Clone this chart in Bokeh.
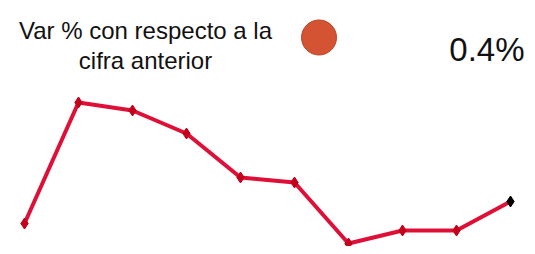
from bokeh.plotting import figure
from bokeh.models import Range1d, Label
from bokeh.embed import file_html
from bokeh.resources import INLINE

# data
periods = list(range(10))
values = [2.7, 14.8, 14.0, 11.7, 7.3, 6.8, 0.7, 2.0, 2.0, 4.9]
title_lines = ["Var % con respecto a la", "cifra anterior"]
last_change = "0.4%"

W, H = 527, 246
p = figure(width=W, height=H, output_backend="svg", toolbar_location=None,
           x_range=Range1d(-24 / 54, 9 + 17 / 54), y_range=Range1d(0.4, 25.0),
           min_border=0, min_border_left=0, min_border_right=0,
           min_border_top=0, min_border_bottom=0)
p.axis.visible = False
p.grid.visible = False
p.outline_line_color = None
p.background_fill_color = "white"
p.border_fill_color = "white"

p.line(periods, values, line_color="#DE1038", line_width=4)
p.scatter(periods[:-1], values[:-1], marker="diamond", size=11,
          fill_color="#C4001A", line_color="#C4001A")
p.scatter(periods[-1:], values[-1:], marker="diamond", size=11,
          fill_color="black", line_color="black")

# indicator circle
p.scatter([5.454], [21.3], marker="circle", size=35,
          fill_color="#D45332", line_color="#B84629", line_width=1)

font = "Liberation Sans"
p.add_layout(Label(x=145, y=216, x_units="screen", y_units="screen",
                   text=title_lines[0], text_align="center", text_baseline="alphabetic",
                   text_font=font, text_font_size="24px", text_color="#111111"))
p.add_layout(Label(x=145, y=186, x_units="screen", y_units="screen",
                   text=title_lines[1], text_align="center", text_baseline="alphabetic",
                   text_font=font, text_font_size="24px", text_color="#111111"))
p.add_layout(Label(x=524, y=197, x_units="screen", y_units="screen",
                   text=last_change, text_align="right", text_baseline="alphabetic",
                   text_font=font, text_font_size="33px", text_color="#111111"))

open("out.html", "w").write(file_html(p, INLINE))
